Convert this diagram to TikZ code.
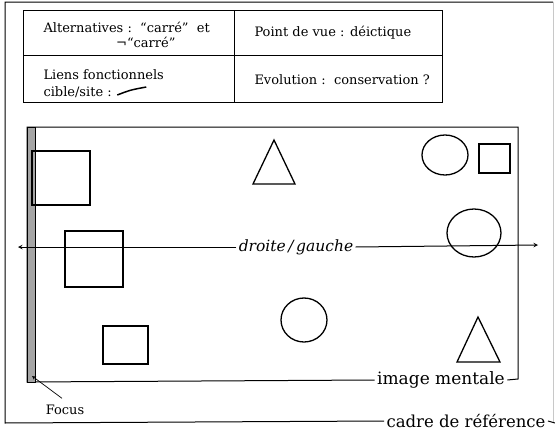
\documentclass[tikz,border=0pt]{standalone}
\usepackage{fontspec}
\setmainfont{DejaVu Serif}
\usetikzlibrary{arrows, positioning, calc, patterns}
\definecolor{focusgrey}{RGB}{165,165,165}
\definecolor{pagegrey}{RGB}{200,200,200}

\begin{document}
\begin{tikzpicture}[x=1pt, y=-1pt, line width=1pt,
    cell/.style={font=\fontsize{13}{15}\selectfont, anchor=west, inner sep=0pt},
    legende/.style={fill=white, inner sep=2pt, font=\fontsize{17}{19}\selectfont},
    forme/.style={draw, line width=1.3pt}]
    \useasboundingbox (0,0) rectangle (555,431);

    % cadre de reference
    \node[legende, font=\fontsize{16.5}{18}\selectfont] (cadre) at (466,421) {cadre de référence};
    \draw (cadre.west) -- (5,423) -- (5,2) -- (553,2);
    \draw[pagegrey] (553,2) -- (553,423);
    \draw (cadre.east) -- (555,423);

    % tableau
    \draw (23,10) rectangle (442,102);
    \draw (23,55) -- (442,55);
    \draw (234,10) -- (234,102);
    \node[cell] (alt) at (43,27) {Alternatives :\ \ “carré”\ \ et};
    \node[cell, anchor=east] (noncarre) at (176,42) {¬“carré”};
    \node[cell] (liens) at (43,75) {Liens fonctionnels};
    \node[cell] (cible) at (43,92) {cible/site :};
    \draw[line width=1.5pt] ($(cible.east)+(5,3)$) .. controls ($(cible.east)+(18,-2)$) .. ($(cible.east)+(34,-5)$);
    \node[cell] (vue) at (254,33) {Point de vue : déictique};
    \node[cell] (evol) at (254,80) {Evolution :\ \ conservation ?};

    % image mentale
    \node[legende] (mentale) at (441,380) {image mentale};
    \draw (mentale.west) -- (27,382) -- (27,127) -- (518,127) -- (518,379) -- (mentale.east);
    \filldraw[fill=focusgrey, draw=black, line width=0.7pt] (27,127) rectangle (35,382);

    % focus
    \node[font=\fontsize{13}{15}\selectfont] (focus) at (65,410) {Focus};
    \coordinate (coin) at (32,376);
    \draw[-stealth, line width=0.7pt] ($(focus.north)+(-3,-3)$) -- (coin);

    % axe droite/gauche
    \node[font=\itshape\fontsize{15.5}{17}\selectfont, inner sep=2pt] (axe) at (296,247) {droite\,/\,gauche};
    \coordinate (gauche) at (18,247);
    \coordinate (droite) at (538,245);
    \draw[-stealth] (axe.west) -- (gauche);
    \draw[-stealth] (axe.east) -- (droite);

    % formes
    \foreach \x/\y/\w/\h in {32/151/58/54, 65/231/58/56, 479/144/31/29, 103/326/45/38}
        \draw[forme] (\x,\y) rectangle ++(\w,\h);
    \draw[forme] (445,155) ellipse (23 and 20);
    \draw[forme] (474,233) ellipse (27 and 24);
    \draw[forme] (304,320) ellipse (23 and 22);
    \draw[forme] (253,184) -- (274,140) -- (295,184) -- cycle;
    \draw[forme] (457,362) -- (478,317) -- (500,362) -- cycle;
\end{tikzpicture}
\end{document}
